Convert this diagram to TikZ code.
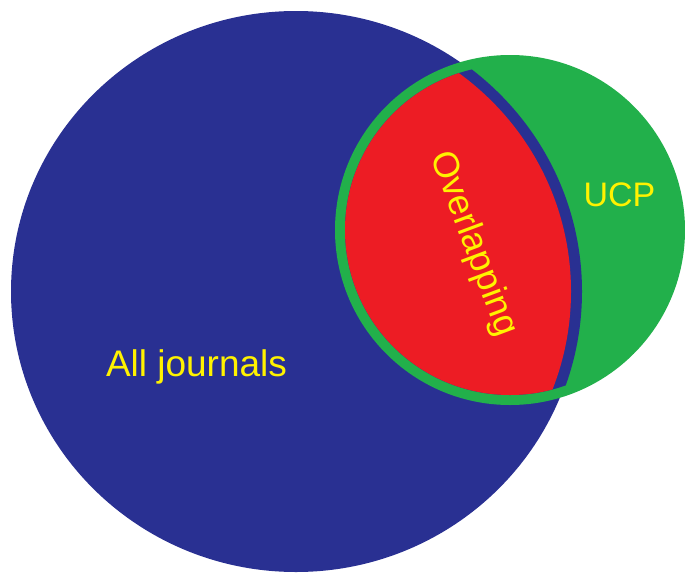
\documentclass[tikz,border=0pt]{standalone}
\usepackage{fontspec}
\setmainfont{Liberation Sans}
\definecolor{vblue}{RGB}{41,48,146}
\definecolor{vgreen}{RGB}{34,176,75}
\definecolor{vred}{RGB}{237,28,36}
\definecolor{vyellow}{RGB}{255,242,0}
\tikzset{
  lbl/.style={text=vyellow, inner sep=0pt, font=\fontsize{35}{40}\selectfont}
}
\begin{document}
\begin{tikzpicture}[x=1pt,y=-1pt]
\useasboundingbox (0,0) rectangle (685,573);
% all journals
\fill[vblue] (296,291.5) ellipse[x radius=285pt, y radius=280.5pt];
% UCP
\fill[vgreen] (510,230) circle[radius=175pt];
% overlap with blue border band
\begin{scope}
  \clip (510,230) circle[radius=165pt];
  \fill[vblue] (296,291.5) ellipse[x radius=286pt, y radius=281.5pt];
  \fill[vred] (296,291.5) ellipse[x radius=275pt, y radius=271pt];
\end{scope}
\node[lbl, font=\fontsize{37}{42}\selectfont, anchor=base] (all) at (196.5,376) {All journals};
\node[lbl, font=\fontsize{34}{40}\selectfont, anchor=base] (ucp) at (619.5,206.5) {UCP};
\node[lbl, font=\fontsize{36}{40}\selectfont, rotate=-69.5] (ovl) at (473,244) {Overlapping};
\end{tikzpicture}
\end{document}
